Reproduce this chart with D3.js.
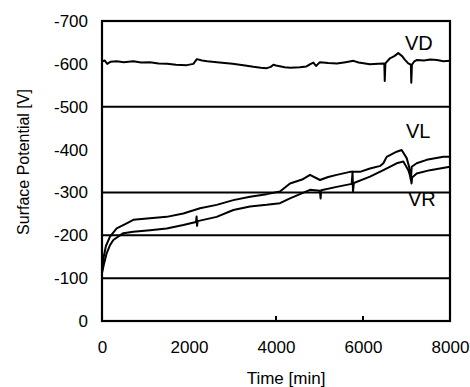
<!DOCTYPE html>
<html>
<head>
<meta charset="utf-8">
<script src="https://cdn.jsdelivr.net/npm/d3@7"></script>
<style>
	body { margin: 0; background: #fff; }
	text { font-family: "Liberation Sans", Arial, sans-serif; fill: #000; }
</style>
</head>
<body>
<div id="chart"></div>
<script>
// time [min], surface potential [V]
var vdData = [[0,-605],[60,-608],[120,-600],[200,-605],[340,-606],[500,-604],[720,-606],[900,-603],[1100,-604],[1300,-601],[1500,-600],[1700,-598],[1950,-597],[2100,-600],[2180,-611],[2300,-608],[2420,-606],[2700,-603],[3000,-600],[3250,-597],[3480,-593],[3650,-591],[3790,-590],[3880,-593],[3940,-598],[4000,-596],[4200,-592],[4330,-591],[4550,-592],[4700,-594],[4800,-600],[4860,-603],[4920,-595],[5010,-604],[5200,-602],[5400,-601],[5600,-604],[5780,-607],[5900,-603],[6160,-599],[6350,-600],[6490,-601],[6500,-560],[6515,-601],[6620,-613],[6720,-618],[6810,-625],[6900,-618],[6960,-610],[7040,-601],[7100,-598],[7110,-556],[7125,-598],[7180,-606],[7240,-609],[7400,-608],[7550,-610],[7700,-609],[7850,-606],[8000,-607]];

var vlData = [[0,-115],[40,-150],[90,-175],[184,-197],[337,-216],[567,-228],[720,-236],[1100,-240],[1486,-243],[1870,-251],[2253,-263],[2636,-271],[3019,-282],[3402,-290],[3785,-296],[4092,-302],[4322,-321],[4600,-330],[4782,-341],[5011,-329],[5200,-336],[5395,-341],[5701,-348],[5931,-348],[6161,-356],[6400,-362],[6468,-368],[6544,-383],[6774,-395],[6889,-399],[7004,-380],[7060,-360],[7080,-345],[7100,-329],[7120,-360],[7234,-368],[7464,-376],[7847,-383],[8000,-383]];

var vrData = [[0,-112],[50,-135],[107,-158],[180,-176],[260,-189],[490,-205],[720,-208],[1103,-212],[1486,-216],[1870,-224],[2160,-231],[2175,-244],[2185,-222],[2200,-233],[2636,-243],[3019,-259],[3402,-267],[3785,-271],[4092,-275],[4322,-286],[4782,-306],[5010,-304],[5025,-286],[5040,-305],[5395,-313],[5740,-320],[5760,-348],[5770,-302],[5790,-322],[6161,-337],[6468,-352],[6774,-368],[6927,-372],[7042,-352],[7100,-333],[7115,-321],[7130,-335],[7234,-344],[7540,-352],[8000,-360]];

var xTicks = [0, 2000, 4000, 6000, 8000];
var xInnerTicks = [4000, 6000];
var yTicks = [0, -100, -200, -300, -400, -500, -600, -700];
var gridValues = [-100, -200, -300, -500];
var seriesLabels = [
	{ name: "VD", x: 405, y: 50 },
	{ name: "VL", x: 406, y: 138 },
	{ name: "VR", x: 408, y: 206 }
];

var width = 470, height = 387;
var margin = { top: 21, right: 20, bottom: 66, left: 102 };
var w = width - margin.left - margin.right;
var h = height - margin.top - margin.bottom;

var svg = d3.select("#chart").append("svg")
	.attr("width", width)
	.attr("height", height);

var g = svg.append("g")
	.attr("transform", "translate(" + margin.left + "," + margin.top + ")");

var x = d3.scaleLinear().domain([0, 8000]).range([0, w]);
var y = d3.scaleLinear().domain([0, -700]).range([h, 0]);

// grid lines
g.append("g").selectAll("line")
	.data(gridValues)
	.enter().append("line")
		.attr("x1", 0).attr("x2", w)
		.attr("y1", function(d) { return y(d); })
		.attr("y2", function(d) { return y(d); })
		.attr("stroke", "#000")
		.attr("stroke-width", 2);

// inner ticks on the bottom
g.append("g").selectAll("line")
	.data(xInnerTicks)
	.enter().append("line")
		.attr("x1", function(d) { return x(d); })
		.attr("x2", function(d) { return x(d); })
		.attr("y1", h).attr("y2", h - 5)
		.attr("stroke", "#000")
		.attr("stroke-width", 2);

var line = d3.line()
	.x(function(d) { return x(d[0]); })
	.y(function(d) { return y(d[1]); });

[vdData, vlData, vrData].forEach(function(s) {
	g.append("path")
		.datum(s)
		.attr("fill", "none")
		.attr("stroke", "#000")
		.attr("stroke-width", 2)
		.attr("stroke-linejoin", "round")
		.attr("d", line);
});

// frame
g.append("rect")
	.attr("width", w).attr("height", h)
	.attr("fill", "none")
	.attr("stroke", "#000")
	.attr("stroke-width", 2.2);

var xAxis = g.append("g")
	.attr("transform", "translate(0," + h + ")")
	.call(d3.axisBottom(x).tickValues(xTicks).tickSize(0).tickPadding(20)
		.tickFormat(function(d) { return String(d); }));
xAxis.select(".domain").remove();
xAxis.selectAll("text").style("font-size", "17px")
	.style("font-family", "'Liberation Sans', Arial, sans-serif");

var yAxis = g.append("g")
	.call(d3.axisLeft(y).tickValues(yTicks).tickSize(0).tickPadding(14)
		.tickFormat(function(d) { return String(d); }));
yAxis.select(".domain").remove();
yAxis.selectAll("text").style("font-size", "17px")
	.style("font-family", "'Liberation Sans', Arial, sans-serif");

// axis titles
svg.append("text")
	.attr("x", 286).attr("y", 384)
	.attr("text-anchor", "middle")
	.style("font-size", "17px")
	.text("Time [min]");

svg.append("text")
	.attr("transform", "translate(29,162) rotate(-90)")
	.attr("text-anchor", "middle")
	.style("font-size", "16px")
	.text("Surface Potential [V]");

svg.append("g").selectAll("text")
	.data(seriesLabels)
	.enter().append("text")
		.attr("x", function(d) { return d.x; })
		.attr("y", function(d) { return d.y; })
		.style("font-size", "20px")
		.text(function(d) { return d.name; });
</script>
</body>
</html>
